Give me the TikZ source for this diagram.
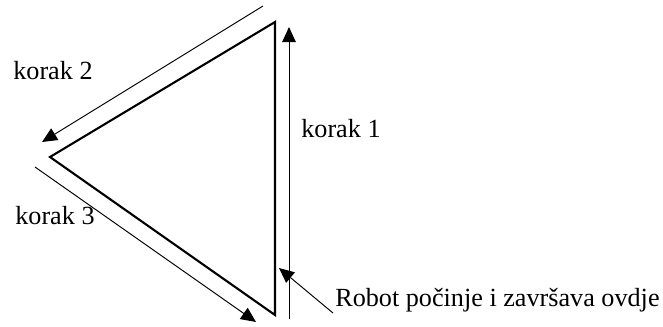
\documentclass[tikz,border=0pt]{standalone}
\usepackage{fontspec}
\setmainfont{Liberation Serif}
\usetikzlibrary{arrows.meta}

\begin{document}
\begin{tikzpicture}[
    x=0.02cm, y=-0.02cm,
    edge/.style={line width=1.2pt, line join=miter},
    move/.style={line width=0.55pt, -{Triangle[length=0.3cm, width=0.27cm]}},
    label/.style={anchor=base west, inner sep=0pt, font=\fontsize{14.9}{17}\selectfont}
]
    \useasboundingbox (0,0) rectangle (663,326);
    % triangle corners
    \coordinate (top) at (275,22);
    \coordinate (left) at (50,157);
    \coordinate (bottom) at (275,315);
    \draw[edge] (top) -- (left) -- (bottom) -- cycle;
    % step arrows
    \coordinate (s1a) at (289,319);
    \coordinate (s1b) at (289,27);
    \coordinate (s2a) at (263,6);
    \coordinate (s2b) at (42,142);
    \coordinate (s3a) at (35,167);
    \coordinate (s3b) at (256,322);
    \draw[move] (s1a) -- (s1b);
    \draw[move] (s2a) -- (s2b);
    \draw[move] (s3a) -- (s3b);
    % labels
    \node[label] (k1) at (301,137) {korak 1};
    \node[label] (k2) at (13,79) {korak 2};
    \node[label] (k3) at (15,224) {korak 3};
    \node[label] (start) at (335,306) {Robot počinje i završava ovdje};
    \coordinate (startln) at (333,313);
    \coordinate (startpt) at (279,268);
    \draw[move] (startln) -- (startpt);
\end{tikzpicture}
\end{document}
